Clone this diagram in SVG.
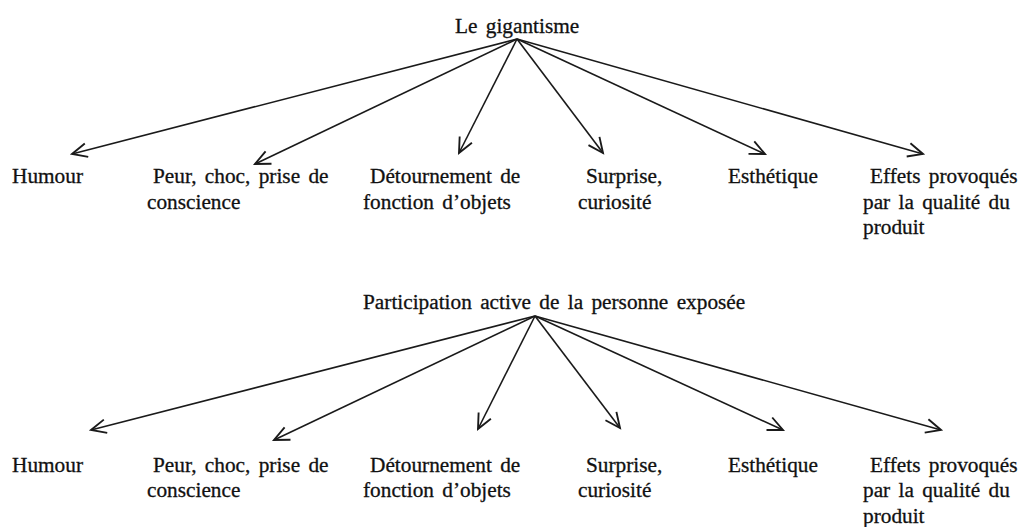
<svg xmlns="http://www.w3.org/2000/svg" width="1028" height="527" viewBox="0 0 1028 527">
<defs>
<marker id="arr" markerUnits="userSpaceOnUse" markerWidth="20" markerHeight="20" viewBox="-14 -8 16 16" refX="0" refY="0" orient="auto">
<path d="M-12,-5.5 L0,0 L-12,5.5" fill="none" stroke="#1a1a1a" stroke-width="1.5" stroke-linejoin="miter"/>
</marker>
</defs>
<style>
text{font-family:"Liberation Serif","Times New Roman",serif;font-size:21.3px;word-spacing:3px;fill:#111;stroke:#111;stroke-width:0.3px;}
.c line{stroke:#1a1a1a;stroke-width:1.6;marker-end:url(#arr);}
</style>
<rect width="1028" height="527" fill="#fff"/>
<g class="c" id="connectors">
<line x1="517" y1="39" x2="72" y2="154"/>
<line x1="517" y1="39" x2="255" y2="164"/>
<line x1="517" y1="39" x2="459" y2="153"/>
<line x1="517" y1="39" x2="603" y2="153"/>
<line x1="517" y1="39" x2="765" y2="154"/>
<line x1="517" y1="39" x2="923" y2="154"/>
<line x1="535" y1="316" x2="91" y2="430"/>
<line x1="535" y1="316" x2="274" y2="440"/>
<line x1="535" y1="316" x2="478" y2="429"/>
<line x1="535" y1="316" x2="620" y2="428"/>
<line x1="535" y1="316" x2="783" y2="430"/>
<line x1="535" y1="316" x2="941" y2="430"/>
</g>
<g id="root1"><text x="455" y="32.5">Le gigantisme</text></g>
<g id="t1"><text x="12" y="183">Humour</text></g>
<g id="t2"><text x="153" y="183">Peur, choc, prise de</text><text x="147" y="208.5">conscience</text></g>
<g id="t3"><text x="370" y="183">Détournement de</text><text x="363" y="208.5">fonction d’objets</text></g>
<g id="t4"><text x="586" y="183">Surprise,</text><text x="578" y="208.5">curiosité</text></g>
<g id="t5"><text x="728" y="183">Esthétique</text></g>
<g id="t6"><text x="870" y="183">Effets provoqués</text><text x="863" y="208.5">par la qualité du</text><text x="863" y="234">produit</text></g>
<g id="root2"><text x="363" y="309">Participation active de la personne exposée</text></g>
<g id="b1"><text x="12" y="471.5">Humour</text></g>
<g id="b2"><text x="153" y="471.5">Peur, choc, prise de</text><text x="147" y="497">conscience</text></g>
<g id="b3"><text x="370" y="471.5">Détournement de</text><text x="363" y="497">fonction d’objets</text></g>
<g id="b4"><text x="586" y="471.5">Surprise,</text><text x="578" y="497">curiosité</text></g>
<g id="b5"><text x="728" y="471.5">Esthétique</text></g>
<g id="b6"><text x="870" y="471.5">Effets provoqués</text><text x="863" y="497">par la qualité du</text><text x="863" y="522.5">produit</text></g>
</svg>
